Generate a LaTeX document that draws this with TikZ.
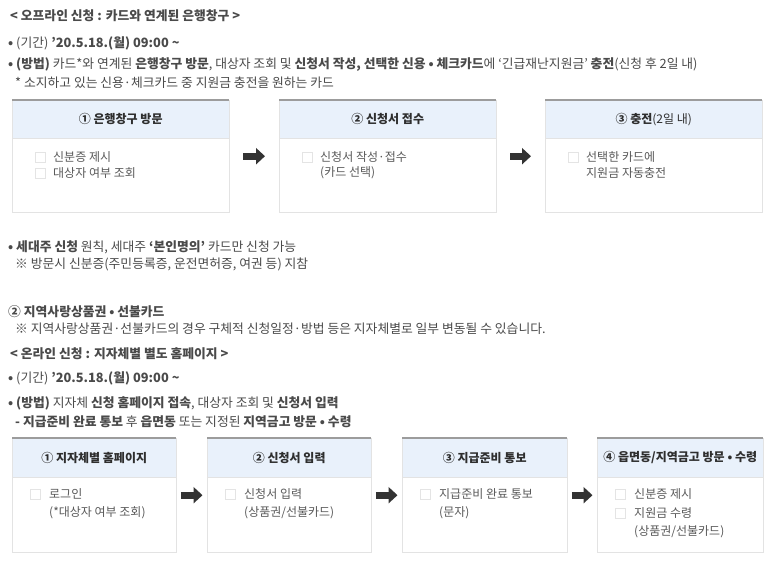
\documentclass[tikz,border=0pt]{standalone}
\usepackage{fontspec}
\setmainfont{Noto Sans CJK KR}
\usetikzlibrary{arrows.meta,calc,positioning}
\definecolor{txt}{HTML}{4A4A4A}
\definecolor{itemtxt}{HTML}{595959}
\definecolor{headtxt}{HTML}{2E2E2E}
\definecolor{headblue}{HTML}{E9F1FB}
\definecolor{cardline}{HTML}{E3E3E3}
\definecolor{ruleline}{HTML}{9C9C9C}
\definecolor{tickline}{HTML}{E4E4E4}
\definecolor{arrowgray}{HTML}{333333}
\tikzset{line text/.style={anchor=west,inner sep=0pt,text=txt,font=\fontsize{12.8}{15}\selectfont},
         card/.style={draw=cardline,fill=white,anchor=north west,inner sep=0pt,minimum height=112pt},
         card head/.style={draw=cardline,fill=headblue,anchor=north west,inner sep=0pt,text=headtxt,font=\bfseries\fontsize{12}{14}\selectfont},
         top rule/.style={draw=ruleline,line width=1.5pt},
         item/.style={anchor=west,inner sep=0pt,text=itemtxt,font=\fontsize{12}{14}\selectfont},
         tick box/.style={draw=tickline,minimum size=10pt,inner sep=0pt},
         flow arrow/.style={draw=arrowgray,line width=7pt,-{Triangle[width=16pt,length=9pt]}}
}
\begin{document}
\begin{tikzpicture}[x=1pt,y=-1pt]
\path[fill=white,use as bounding box] (0,0) rectangle (773,561);

% offline
\node[line text] (off) at (10,16) {\textbf{< 오프라인 신청 : 카드와 연계된 은행창구 >}};
\node[line text] (per1) at (8,43) {\textbf{•} (기간) \textbf{’20.5.18.(월) 09:00 \textasciitilde}};
\node[line text] (met1) at (8,65) {\textbf{• (방법)} 카드*와 연계된 \textbf{은행창구 방문}, 대상자 조회 및 \textbf{신청서 작성, 선택한 신용 • 체크카드}에 ‘긴급재난지원금’ \textbf{충전}(신청 후 2일 내)};
\node[line text] (note1) at (15,83) {* 소지하고 있는 신용·체크카드 중 지원금 충전을 원하는 카드};

\node[card,minimum width=217pt] (c1) at (12,100) {};
\node[card,minimum width=217pt] (c2) at (279,100) {};
\node[card,minimum width=217pt] (c3) at (545,100) {};
\node[card head,minimum width=217pt,minimum height=38pt] (h1) at (c1.north west) {① 은행창구 방문};
\node[card head,minimum width=217pt,minimum height=38pt] (h2) at (c2.north west) {② 신청서 접수};
\node[card head,minimum width=217pt,minimum height=38pt] (h3) at (c3.north west) {③ 충전\mdseries(2일 내)};
\foreach \c in {c1,c2,c3}
  \draw[top rule] (\c.north west) -- (\c.north east);

\node[tick box] (t11) at ($(c1.north west)+(28,57)$) {};
\node[item] (i11) at ($(c1.north west)+(41,57)$) {신분증 제시};
\node[tick box] (t12) at ($(c1.north west)+(28,73)$) {};
\node[item] (i12) at ($(c1.north west)+(41,73)$) {대상자 여부 조회};
\node[tick box] (t21) at ($(c2.north west)+(28,57)$) {};
\node[item] (i21) at ($(c2.north west)+(41,57)$) {신청서 작성·접수};
\node[item] (i22) at ($(c2.north west)+(41,73)$) {(카드 선택)};
\node[tick box] (t31) at ($(c3.north west)+(28,57)$) {};
\node[item] (i31) at ($(c3.north west)+(41,57)$) {선택한 카드에};
\node[item] (i32) at ($(c3.north west)+(41,73)$) {지원금 자동충전};

\draw[flow arrow,shorten <=14pt,shorten >=14pt] (c1.east) -- (c2.west);
\draw[flow arrow,shorten <=14pt,shorten >=14pt] (c2.east) -- (c3.west);

\node[line text] (own) at (8,247) {\textbf{• 세대주 신청} 원칙, 세대주 \textbf{‘본인명의’} 카드만 신청 가능};
\node[line text] (note2) at (15,264) {※ 방문시 신분증(주민등록증, 운전면허증, 여권 등) 지참};
\node[line text] (local) at (8,312) {\textbf{② 지역사랑상품권 • 선불카드}};
\node[line text] (note3) at (15,329) {※ 지역사랑상품권·선불카드의 경우 구체적 신청일정·방법 등은 지자체별로 일부 변동될 수 있습니다.};

% online
\node[line text] (on) at (10,354) {\textbf{< 온라인 신청 : 지자체별 별도 홈페이지 >}};
\node[line text] (per2) at (8,378) {\textbf{•} (기간) \textbf{’20.5.18.(월) 09:00 \textasciitilde}};
\node[line text] (met2) at (8,403) {\textbf{• (방법)} 지자체 \textbf{신청 홈페이지 접속}, 대상자 조회 및 \textbf{신청서 입력}};
\node[line text] (note4) at (15,422) {\textbf{- 지급준비 완료 통보} 후 \textbf{읍면동} 또는 지정된 \textbf{지역금고 방문 • 수령}};

\node[card,minimum width=164pt,minimum height=114pt] (d1) at (12,438) {};
\node[card,minimum width=164pt,minimum height=114pt] (d2) at (207,438) {};
\node[card,minimum width=165pt,minimum height=114pt] (d3) at (402,438) {};
\node[card,minimum width=166pt,minimum height=114pt] (d4) at (597,438) {};
\node[card head,minimum width=164pt,minimum height=39pt] (g1) at (d1.north west) {① 지자체별 홈페이지};
\node[card head,minimum width=164pt,minimum height=39pt] (g2) at (d2.north west) {② 신청서 입력};
\node[card head,minimum width=165pt,minimum height=39pt] (g3) at (d3.north west) {③ 지급준비 통보};
\node[card head,minimum width=166pt,minimum height=39pt] (g4) at (d4.north west) {④ 읍면동/지역금고 방문 • 수령};
\foreach \d in {d1,d2,d3,d4}
  \draw[top rule] (\d.north west) -- (\d.north east);

\node[tick box] (s11) at ($(d1.north west)+(23,56)$) {};
\node[item] (j11) at ($(d1.north west)+(37,56)$) {로그인};
\node[item] (j12) at ($(d1.north west)+(37,75)$) {(*대상자 여부 조회)};
\node[tick box] (s21) at ($(d2.north west)+(23,56)$) {};
\node[item] (j21) at ($(d2.north west)+(37,56)$) {신청서 입력};
\node[item] (j22) at ($(d2.north west)+(37,75)$) {(상품권/선불카드)};
\node[tick box] (s31) at ($(d3.north west)+(23,56)$) {};
\node[item] (j31) at ($(d3.north west)+(37,56)$) {지급준비 완료 통보};
\node[item] (j32) at ($(d3.north west)+(37,75)$) {(문자)};
\node[tick box] (s41) at ($(d4.north west)+(23,56)$) {};
\node[item] (j41) at ($(d4.north west)+(37,56)$) {신분증 제시};
\node[tick box] (s42) at ($(d4.north west)+(23,75)$) {};
\node[item] (j42) at ($(d4.north west)+(37,75)$) {지원금 수령};
\node[item] (j43) at ($(d4.north west)+(37,94)$) {(상품권/선불카드)};

\draw[flow arrow,shorten <=4.5pt,shorten >=4.5pt] (d1.east) -- (d2.west);
\draw[flow arrow,shorten <=4.5pt,shorten >=4.5pt] (d2.east) -- (d3.west);
\draw[flow arrow,shorten <=4.5pt,shorten >=4.5pt] (d3.east) -- (d4.west);
\end{tikzpicture}
\end{document}
